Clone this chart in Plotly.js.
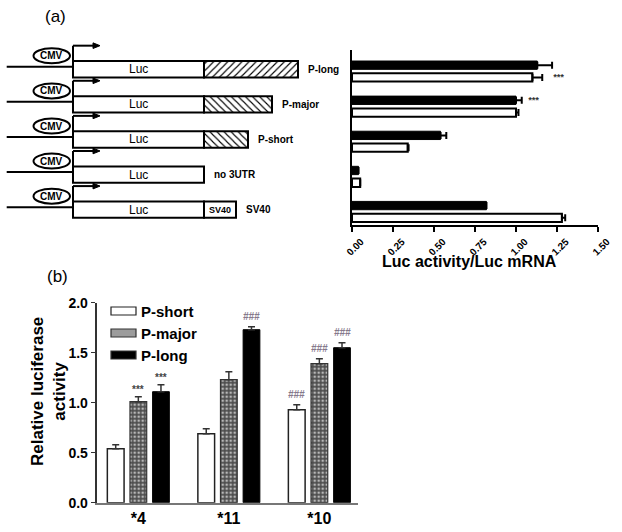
<!DOCTYPE html>
<html>
<head>
<meta charset="utf-8">
<script src="https://cdn.plot.ly/plotly-3.0.1.min.js"></script>
<style>
	html, body { margin: 0; padding: 0; background: #fff; }
	#chart { width: 622px; height: 532px; }
</style>
</head>
<body>
<div id="chart"></div>
<script>
"use strict";
// (a) constructs, drawn left; lengths are in diagram units
var constructs = ['P-long', 'P-major', 'P-short', 'no 3UTR', 'SV40'];
var lucStart = 73;
var lucLen = 131;
var tailLen = [94, 68, 44, 0, 32];
var tailHatch = ['/', '\\', '\\', '', ''];
var tailText = ['', '', '', '', 'SV40'];

// (a) Luc activity / Luc mRNA
var ratioBlack = [1.13, 1.00, 0.54, 0.04, 0.82];
var ratioBlackErr = [0.09, 0.035, 0.035, 0, 0];
var ratioWhite = [1.10, 1.00, 0.34, 0.05, 1.28];
var ratioWhiteErr = [0.06, 0.015, 0.005, 0, 0.02];
var sigBlack = ['', '***', '', '', ''];
var sigWhite = ['***', '', '', '', ''];
var ratioTicks = [0, 0.25, 0.5, 0.75, 1, 1.25, 1.5];

// (b) relative luciferase activity
var groups = ['*4', '*11', '*10'];
var seriesNames = ['P-short', 'P-major', 'P-long'];
var pShort = [0.54, 0.69, 0.93];
var pShortErr = [0.04, 0.05, 0.05];
var pMajor = [1.01, 1.23, 1.39];
var pMajorErr = [0.05, 0.08, 0.05];
var pLong = [1.11, 1.73, 1.55];
var pLongErr = [0.07, 0.03, 0.05];
var sigShort = ['', '', '###'];
var sigMajor = ['***', '', '###'];
var sigLong = ['***', '###', '###'];

var W = 622, H = 532;
function px(x) { return x / W; }
function py(y) { return 1 - y / H; }
function zeros(a) { return a.map(function() { return 0; }); }

var bold = function(size, color) { return {family: 'Arial', size: size, weight: 'bold', color: color || '#000'}; };

var traces = [];
var shapes = [];
var annotations = [];

// ---- construct diagram (x3/y3, hidden axes)
var rows = constructs.map(function(c, i) { return i; });
traces.push({
	type: 'bar', orientation: 'h', xaxis: 'x3', yaxis: 'y3',
	y: rows, x: constructs.map(function() { return lucLen; }), base: lucStart,
	width: 0.465, offset: -0.29,
	marker: {color: '#fff', line: {color: '#000', width: 2}},
	hoverinfo: 'skip', showlegend: false
});
traces.push({
	type: 'bar', orientation: 'h', xaxis: 'x3', yaxis: 'y3',
	y: rows, x: tailLen, base: lucStart + lucLen,
	width: 0.465, offset: -0.29,
	marker: {
		color: '#fff', line: {color: '#000', width: 2},
		pattern: {shape: tailHatch, fgcolor: '#000', bgcolor: '#fff', size: 5, solidity: 0.22}
	},
	hoverinfo: 'skip', showlegend: false
});

for (var i = 0; i < constructs.length; i++) {
	var ln = {color: '#000', width: 2};
	shapes.push({type: 'line', xref: 'x3', yref: 'y3', x0: 6.7, x1: lucStart, y0: i - 0.13, y1: i - 0.13, line: ln});
	shapes.push({type: 'line', xref: 'x3', yref: 'y3', x0: lucStart, x1: lucStart, y0: i - 0.29, y1: i - 0.73, line: ln});
	shapes.push({type: 'line', xref: 'x3', yref: 'y3', x0: lucStart, x1: 95, y0: i - 0.73, y1: i - 0.73, line: ln});
	shapes.push({type: 'path', xref: 'x3', yref: 'y3',
		path: 'M 93,' + (i - 0.81) + ' L 100,' + (i - 0.73) + ' L 93,' + (i - 0.65) + ' Z',
		fillcolor: '#000', line: {color: '#000', width: 1}});
	shapes.push({type: 'circle', xref: 'x3', yref: 'y3', x0: 33.5, x1: 70, y0: i - 0.655, y1: i - 0.228,
		fillcolor: '#fff', line: {color: '#000', width: 2}});
	annotations.push({xref: 'x3', yref: 'y3', x: 51.7, y: i - 0.44, text: 'CMV', showarrow: false,
		xanchor: 'center', yanchor: 'middle', font: bold(10)});
	annotations.push({xref: 'x3', yref: 'y3', x: lucStart + lucLen / 2, y: i - 0.06, text: 'Luc', showarrow: false,
		xanchor: 'center', yanchor: 'middle', font: {family: 'Arial', size: 12, color: '#000'}});
	if (tailText[i]) annotations.push({xref: 'x3', yref: 'y3', x: lucStart + lucLen + tailLen[i] / 2, y: i - 0.06,
		text: tailText[i], showarrow: false, xanchor: 'center', yanchor: 'middle',
		font: bold(9)});
	annotations.push({xref: 'x3', yref: 'y3', x: lucStart + lucLen + tailLen[i] + 8, y: i - 0.06,
		text: constructs[i], showarrow: false, xanchor: 'left', yanchor: 'middle', font: bold(10)});
}

// ---- (a) bars
traces.push({
	type: 'bar', orientation: 'h', xaxis: 'x', yaxis: 'y', name: 'black',
	y: constructs, x: ratioBlack, width: 0.237, offset: -0.293,
	marker: {color: '#000', line: {color: '#000', width: 1}},
	error_x: {type: 'data', array: ratioBlackErr, arrayminus: zeros(ratioBlackErr), symmetric: false,
		color: '#000', thickness: 2, width: 3.5},
	showlegend: false
});
traces.push({
	type: 'bar', orientation: 'h', xaxis: 'x', yaxis: 'y', name: 'white',
	y: constructs, x: ratioWhite, width: 0.237, offset: 0.057,
	marker: {color: '#fff', line: {color: '#000', width: 2}},
	error_x: {type: 'data', array: ratioWhiteErr, arrayminus: zeros(ratioWhiteErr), symmetric: false,
		color: '#000', thickness: 2, width: 3.5},
	showlegend: false
});
constructs.forEach(function(c, i) {
	if (sigBlack[i]) annotations.push({xref: 'x', yref: 'y', x: ratioBlack[i] + ratioBlackErr[i], y: c,
		xanchor: 'left', yanchor: 'middle', xshift: 4, yshift: 6, text: sigBlack[i], showarrow: false,
		font: {family: 'Arial', size: 9, style: 'italic', weight: 'bold', color: '#333'}});
	if (sigWhite[i]) annotations.push({xref: 'x', yref: 'y', x: ratioWhite[i] + ratioWhiteErr[i], y: c,
		xanchor: 'left', yanchor: 'middle', xshift: 9, yshift: -6, text: sigWhite[i], showarrow: false,
		font: {family: 'Arial', size: 9, style: 'italic', weight: 'bold', color: '#333'}});
});

// ---- (b) bars
var bValues = [pShort, pMajor, pLong];
var bErrs = [pShortErr, pMajorErr, pLongErr];
var bSig = [sigShort, sigMajor, sigLong];
var bMarkers = [
	{color: '#fff', line: {color: '#222', width: 1.5}},
	{color: '#555', line: {color: '#333', width: 1.2},
		pattern: {shape: '.', fgcolor: '#b8b8b8', bgcolor: '#4e4e4e', size: 4, solidity: 0.35}},
	{color: '#000', line: {color: '#000', width: 1}}
];
for (var k = 0; k < 3; k++) {
	traces.push({
		type: 'bar', xaxis: 'x2', yaxis: 'y2', name: seriesNames[k],
		x: groups, y: bValues[k], marker: bMarkers[k],
		error_y: {type: 'data', array: bErrs[k], arrayminus: zeros(bErrs[k]), symmetric: false,
			color: '#333', thickness: 1.5, width: 3.5},
		showlegend: false
	});
}
var bRange = [-0.46, 2.43];
var bargap = 0.25;
var catPx = (358.3 - 96.7) / (bRange[1] - bRange[0]);
var pitch = catPx * (1 - bargap) / 3;
for (var k2 = 0; k2 < 3; k2++) {
	groups.forEach(function(g, j) {
		var s = bSig[k2][j];
		if (!s) return;
		var hash = s === '###';
		annotations.push({xref: 'x2', yref: 'y2', x: g, y: bValues[k2][j] + bErrs[k2][j],
			xshift: (k2 - 1) * pitch, yshift: hash ? 3 : 0, xanchor: 'center', yanchor: 'bottom',
			text: s, showarrow: false,
			font: hash ? {family: 'Arial', size: 10, style: 'italic', weight: 'bold', color: '#86798c'}
				: {family: 'Arial', size: 10, weight: 'bold', color: '#444'}});
	});
}

// (b) legend, drawn by hand so the swatches are wide
var legY = [311, 333, 355];
var legFill = ['#fff', '#9c9c9c', '#000'];
for (var m = 0; m < 3; m++) {
	shapes.push({type: 'rect', xref: 'paper', yref: 'paper',
		x0: px(111), x1: px(136), y0: py(legY[m] + 4), y1: py(legY[m] - 4),
		fillcolor: legFill[m], line: {color: m === 0 ? '#222' : '#333', width: 1.2}});
	annotations.push({xref: 'paper', yref: 'paper', x: px(139), y: py(legY[m]), xanchor: 'left', yanchor: 'middle',
		text: seriesNames[m], showarrow: false, font: bold(15)});
}

// titles and panel letters
function label(x, y, text, font, extra) {
	var a = {xref: 'paper', yref: 'paper', x: px(x), y: py(y), text: text, showarrow: false,
		xanchor: 'center', yanchor: 'middle', font: font};
	for (var key in (extra || {})) a[key] = extra[key];
	annotations.push(a);
}
label(55, 17, '(a)', {family: 'Arial', size: 17, color: '#000'});
label(57, 276, '(b)', {family: 'Arial', size: 17, color: '#000'});
label(469, 262, 'Luc activity/Luc mRNA', bold(16));
label(48, 392, 'Relative luciferase<br>activity', bold(17), {textangle: -90});

var layout = {
	width: W, height: H,
	margin: {l: 0, r: 0, t: 0, b: 0},
	paper_bgcolor: '#fff', plot_bgcolor: 'rgba(0,0,0,0)',
	font: {family: 'Arial', color: '#000'},
	showlegend: false,
	barmode: 'group', bargap: bargap, bargroupgap: 0.26,
	xaxis: {
		domain: [px(352), px(598)], anchor: 'y', range: [0, 1.5],
		tickvals: ratioTicks, tickformat: '.2f', tickangle: -45, ticklabelshift: 9,
		ticks: 'outside', ticklen: 5, tickwidth: 2, tickcolor: '#000',
		showline: true, linewidth: 2, linecolor: '#000',
		showgrid: false, zeroline: false, tickfont: bold(10)
	},
	yaxis: {
		domain: [py(225), py(50)], anchor: 'x', type: 'category', categoryarray: constructs,
		range: [4.379, -0.607], showticklabels: false, ticks: '',
		showline: true, linewidth: 2, linecolor: '#000', showgrid: false, zeroline: false
	},
	xaxis2: {
		domain: [px(96.7), px(358.3)], anchor: 'y2', type: 'category', range: bRange,
		ticks: '', showline: true, linewidth: 2, linecolor: '#777',
		showgrid: false, zeroline: false, tickfont: bold(16)
	},
	yaxis2: {
		domain: [py(502.7), py(302.7)], anchor: 'x2', range: [0, 2], dtick: 0.5, tickformat: '.1f',
		ticks: 'outside', ticklen: 4, tickwidth: 1.5, tickcolor: '#333',
		showline: true, linewidth: 2, linecolor: '#333',
		showgrid: false, zeroline: false, tickfont: bold(14)
	},
	xaxis3: {domain: [0, px(330)], anchor: 'y3', range: [0, 330], visible: false},
	yaxis3: {domain: [py(230), py(35)], anchor: 'x3', range: [4.521, -1.034], visible: false},
	shapes: shapes,
	annotations: annotations
};

Plotly.newPlot(document.getElementById('chart'), traces, layout, {displayModeBar: false, staticPlot: true});
</script>
</body>
</html>
